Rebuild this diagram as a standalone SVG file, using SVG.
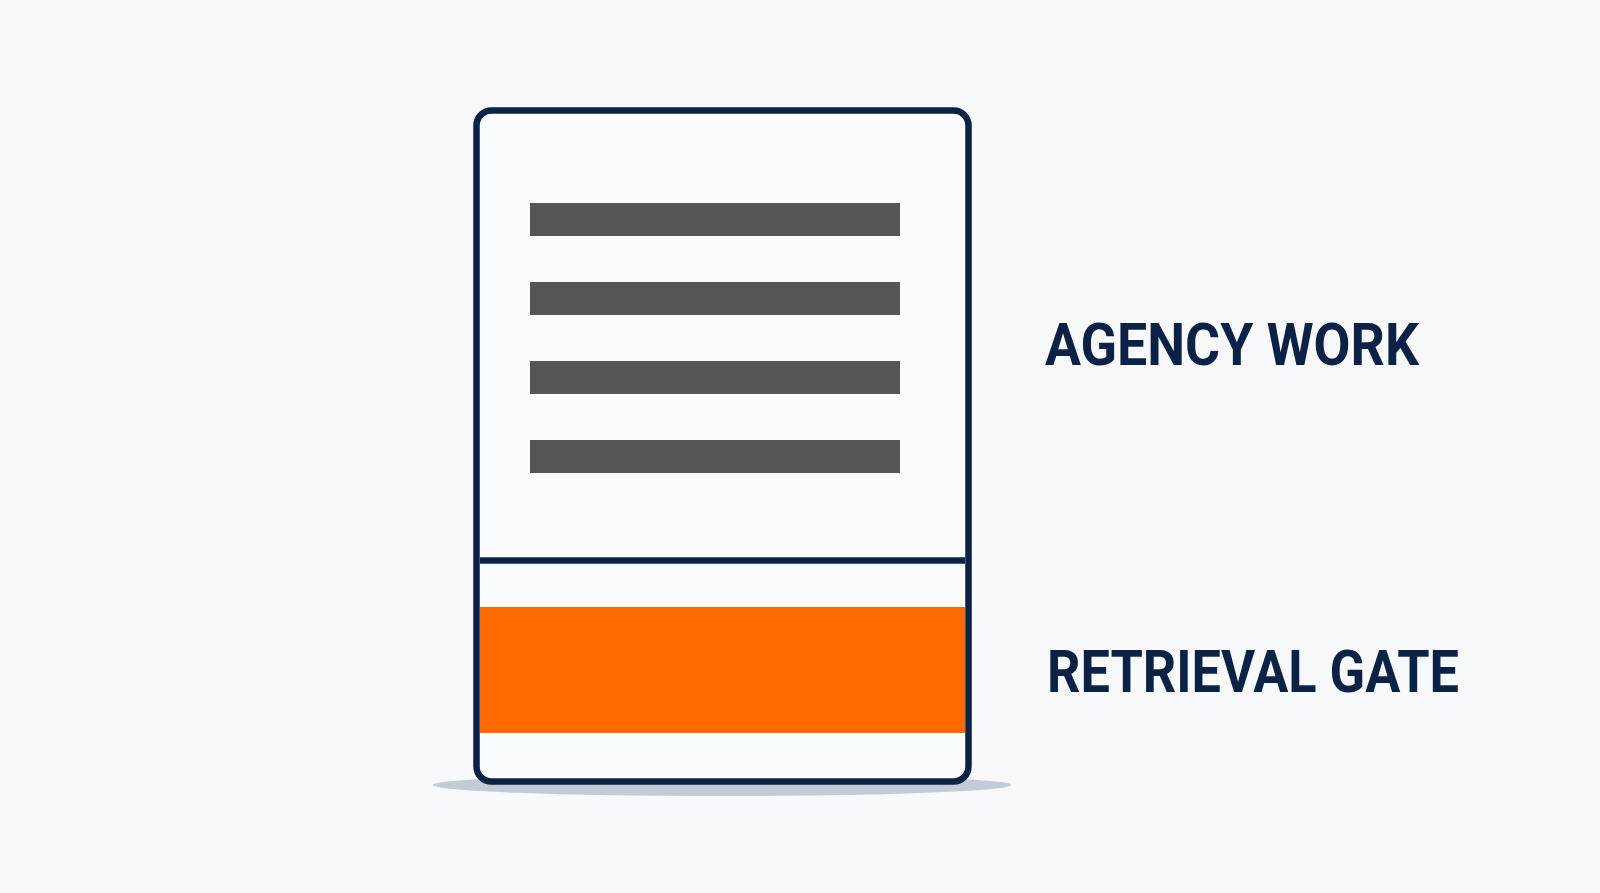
<svg xmlns="http://www.w3.org/2000/svg" width="1600" height="893" viewBox="0 0 1600 893">
<style>
.bar{fill:#555658}
.lbl{font-family:Roboto,"Liberation Sans",sans-serif;font-weight:700;font-size:60px;fill:#0c2146}
.navy{stroke:#0c2146;stroke-width:6.5;fill:none}
</style>
<rect width="1600" height="893" fill="#f7f9fb"/>
<g id="card">
<ellipse cx="722" cy="785" rx="289" ry="11" fill="#c4cbd8"/>
<rect x="476.5" y="110.5" width="492" height="671" rx="15" fill="#fbfcfd"/>
<rect x="480" y="607" width="485" height="126" fill="#ff6a00"/>
<line class="navy" x1="480" y1="560.5" x2="965" y2="560.5"/>
<rect class="navy" x="476.5" y="110.5" width="492" height="671" rx="15"/>
</g>
<g id="lines">
<rect class="bar" x="530" y="203" width="370" height="33"/>
<rect class="bar" x="530" y="282" width="370" height="33"/>
<rect class="bar" x="530" y="361" width="370" height="33"/>
<rect class="bar" x="530" y="440" width="370" height="33"/>
</g>
<g id="label-agency">
<text class="lbl" x="1045" y="365" textLength="374" lengthAdjust="spacingAndGlyphs">AGENCY WORK</text>
</g>
<g id="label-retrieval">
<text class="lbl" x="1047" y="692" textLength="412" lengthAdjust="spacingAndGlyphs">RETRIEVAL GATE</text>
</g>
</svg>
